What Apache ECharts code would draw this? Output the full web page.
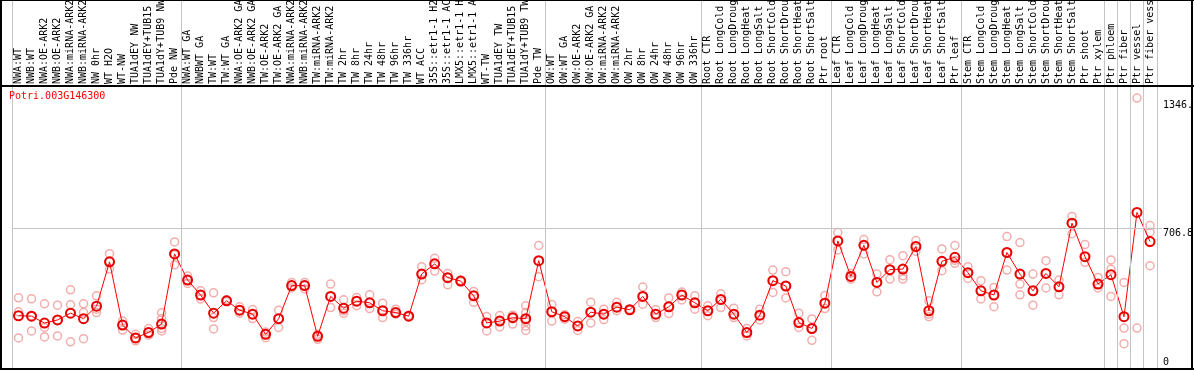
<!DOCTYPE html>
<html>
<head>
<meta charset="utf-8">
<script src="https://cdn.jsdelivr.net/npm/echarts@6/dist/echarts.min.js"></script>
<style>
html,body{margin:0;padding:0;background:#fff;}
#chart{width:1194px;height:370px;}
</style>
</head>
<body>
<div id="chart"></div>
<script>
const geneId = "Potri.003G146300";

const categories = [
  "NWA:WT","NWB:WT","NWA:OE-ARK2","NWB:OE-ARK2","NWA:miRNA-ARK2","NWB:miRNA-ARK2","NW 0hr","WT H2O","WT-NW",
  "TUA1dEY NW","TUA1dEY+TUB15","TUA1dY+TUB9 NW","Pde NW",
  "NWA:WT GA","NWBWT GA","TW:WT","TW:WT GA","NWA:OE-ARK2 GA","NWB:OE-ARK2 GA","TW:OE-ARK2","TW:OE-ARK2 GA",
  "NWA:miRNA-ARK2","NWB:miRNA-ARK2","TW:miRNA-ARK2","TW:miRNA-ARK2","TW 2hr","TW 8hr","TW 24hr","TW 48hr",
  "TW 96hr","TW 336hr","WT ACC","35S::etr1-1 H2O","35S::etr1-1 ACC","LMX5::etr1-1 H2O","LMX5::etr1-1 ACC",
  "WT-TW","TUA1dEY TW","TUA1dEY+TUB15","TUA1dY+TUB9 TW","Pde TW",
  "OW:WT","OW:WT GA","OW:OE-ARK2","OW:OE-ARK2 GA","OW:miRNA-ARK2","OW:miRNA-ARK2","OW 2hr","OW 8hr",
  "OW 24hr","OW 48hr","OW 96hr","OW 336hr",
  "Root CTR","Root LongCold","Root LongDrought","Root LongHeat","Root LongSalt","Root ShortCold",
  "Root ShortDrought","Root ShortHeat","Root ShortSalt","Ptr root",
  "Leaf CTR","Leaf LongCold","Leaf LongDrought","Leaf LongHeat","Leaf LongSalt","Leaf ShortCold",
  "Leaf ShortDrought","Leaf ShortHeat","Leaf ShortSalt","Ptr leaf",
  "Stem CTR","Stem LongCold","Stem LongDrought","Stem LongHeat","Stem LongSalt","Stem ShortCold",
  "Stem ShortDrought","Stem ShortHeat","Stem ShortSalt","Ptr shoot","Ptr xylem",
  "Ptr phloem","Ptr fiber","Ptr vessel","Ptr fiber vessel"
];

const meanValues = [
  267,265,230,246,280,252,315,537,220,156,183,225,577,
  446,371,280,342,295,275,174,252,418,418,164,364,305,340,332,292,283,265,476,527,458,441,367,231,240,257,252,543,
  287,262,216,285,275,310,297,364,275,312,371,332,
  292,349,275,183,270,443,416,233,203,330,
  642,464,620,434,498,501,614,292,540,560,
  483,392,371,584,476,392,479,412,731,563,426,
  473,262,785,639
];

const replicateValues = [
  [357,287,156],[352,265,191],[327,208,161],[320,246,166],[397,322,136],[327,283,152],[367,300,283],
  [578,537,501],[241,220,195],[174,156,141],[203,183,170],[282,253,225,203,191],[637,573,522],
  [466,446,429],[392,371,351],[382,258,201],[347,342,338],[312,295,280],[298,275,253],[186,174,157],
  [295,252,208],[434,418,406],[434,418,401],[174,164,149],[426,364,308],[347,292,280],[359,340,317],
  [372,332,303],[330,292,258],[300,283,275],[268,265,262],[513,476,448],[555,527,491],[479,458,422],
  [445,441,437],[389,367,334],[263,231,191],[268,240,211],[270,256,225],[317,283,252,238,216,193],
  [619,543,463],
  [323,287,240],[272,262,250],[238,216,193],[335,285,231],[300,275,248],[334,310,292],[300,297,294],
  [411,364,325],[297,275,258],[356,312,278],[386,371,346],[367,332,300],
  [317,292,267],[377,349,308],[305,275,258],[203,183,166],[300,270,246],[496,443,384],[488,416,356],
  [280,233,208],[251,203,144],[369,330,303],
  [684,642,597],[479,462,450],[649,620,577],[476,434,387],[548,498,451],[568,501,468,451],[644,614,589],
  [342,275,262],[602,540,493],[619,545,530],
  [513,483,454],[443,392,351],[409,371,312],[664,584,496],[634,476,426,372],[476,392,320],[543,479,406],
  [446,412,372],[765,731,678],[624,563,535],[459,426,406],
  [547,500,364],[434,205,127],[1358,205],[719,686,518]
];

// category boundaries (index of first category after a separator line)
const groupBoundaries = [0,13,41,53,63,73,84,85,86,87,88];

const yMin = 0;
const yMax = 1413.6;
const gridLineValues = [706.8];
const rightLabelValues = [1346, 706.8, 0];
const rightLabelTexts = ["1346.", "706.8", "0"];

const MONO = "'DejaVu Sans Mono', 'Liberation Mono', monospace";

const repData = [];
replicateValues.forEach((arr, i) => arr.forEach(v => repData.push([i, v])));

const chart = echarts.init(document.getElementById('chart'), null, {renderer: 'canvas'});

chart.setOption({
  animation: false,
  backgroundColor: '#fff',
  grid: {left: 12, right: 37.5, top: 87, bottom: 1, containLabel: false, outerBoundsMode: 'none'},
  xAxis: {
    type: 'category',
    data: categories,
    position: 'top',
    boundaryGap: true,
    axisLine: {show: false},
    axisTick: {show: false},
    splitLine: {show: false},
    axisLabel: {
      interval: 0, rotate: 90, margin: 3, hideOverlap: false,
      fontFamily: MONO, fontSize: 10, color: '#000'
    }
  },
  yAxis: {
    type: 'value', min: yMin, max: yMax, position: 'right',
    axisLine: {show: false}, axisTick: {show: false},
    axisLabel: {show: false}, splitLine: {show: false}
  },
  series: [
    {
      type: 'scatter',
      data: repData,
      symbol: 'circle',
      symbolSize: 8,
      silent: true,
      z: 2,
      itemStyle: {color: 'rgba(0,0,0,0)', borderColor: '#f09898', borderWidth: 1.5}
    },
    {
      type: 'line',
      data: meanValues,
      symbol: 'circle',
      symbolSize: 9,
      showSymbol: true,
      showAllSymbol: true,
      silent: true,
      z: 3,
      lineStyle: {color: '#ff0000', width: 1},
      itemStyle: {color: 'rgba(0,0,0,0)', borderColor: '#e80000', borderWidth: 2}
    }
  ]
});

// Build decorations from the chart's own scales
const px = (i, v) => chart.convertToPixel({gridIndex: 0}, [i, v]);
const x0 = px(0, 0)[0], x1 = px(1, 0)[0];
const band = x1 - x0;
const W = 1194, H = 370;
const yBottom = px(0, yMin)[1];
const gray = '#c4c4c4';
const elements = [];

groupBoundaries.forEach(k => {
  const x = Math.round(x0 + band * (k - 0.5)) + 0.5;
  elements.push({type: 'line', z: 50, shape: {x1: x, y1: 0, x2: x, y2: yBottom}, style: {stroke: gray, lineWidth: 1}});
});

gridLineValues.forEach(v => {
  const y = Math.round(px(0, v)[1]) + 0.5;
  const xl = Math.round(x0 - band / 2) + 0.5;
  elements.push({type: 'line', z: 50, shape: {x1: xl, y1: y, x2: 1162, y2: y}, style: {stroke: gray, lineWidth: 1}});
});

// frame
const black = '#000';
elements.push({type: 'line', z: 60, shape: {x1: 0, y1: 0.5, x2: W, y2: 0.5}, style: {stroke: black, lineWidth: 1}});
elements.push({type: 'line', z: 60, shape: {x1: 0, y1: 86, x2: W, y2: 86}, style: {stroke: black, lineWidth: 2}});
elements.push({type: 'line', z: 60, shape: {x1: 0, y1: 369, x2: W, y2: 369}, style: {stroke: black, lineWidth: 2}});
elements.push({type: 'line', z: 60, shape: {x1: 1, y1: 0, x2: 1, y2: H}, style: {stroke: black, lineWidth: 2}});
elements.push({type: 'line', z: 60, shape: {x1: 1192, y1: 0, x2: 1192, y2: H}, style: {stroke: black, lineWidth: 2}});

// gene id title
elements.push({type: 'text', z: 70, x: 9, y: 91,
  style: {text: geneId, fill: '#ff0000', font: '10px ' + MONO, textAlign: 'left', textVerticalAlign: 'top'}});

// right-side value labels
rightLabelValues.forEach((v, j) => {
  const y = px(0, v)[1];
  const isBottom = v === yMin;
  elements.push({type: 'text', z: 55, x: 1163, y: isBottom ? y - 2 : y,
    style: {text: rightLabelTexts[j], fill: '#000', font: '10px ' + MONO, textAlign: 'left',
            textVerticalAlign: isBottom ? 'bottom' : 'top'}});
});

chart.setOption({graphic: {elements: elements}});
</script>
</body>
</html>
